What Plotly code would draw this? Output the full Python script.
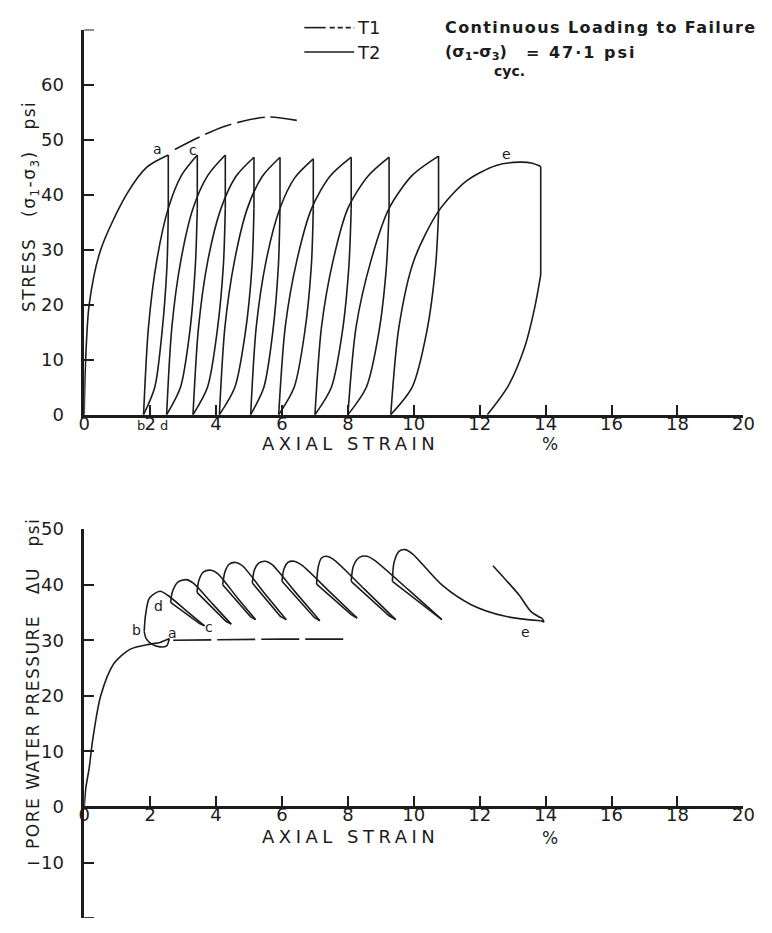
import plotly.graph_objects as go

W, H = 772, 933

# ---------------- top panel: stress vs axial strain ----------------
# T2 loading branches (strain %, deviator stress psi)
load_strain = [
    [0, 0.03, 0.15, 0.5, 1.28, 1.9, 2.55],
    [1.8, 1.95, 2.2, 2.55, 2.95, 3.43],
    [2.5, 2.66, 2.93, 3.3, 3.75, 4.28],
    [3.3, 3.47, 3.75, 4.15, 4.6, 5.15],
    [4.1, 4.27, 4.56, 4.95, 5.4, 5.94],
    [5.05, 5.22, 5.52, 5.92, 6.38, 6.95],
    [5.9, 6.1, 6.45, 6.9, 7.45, 8.1],
    [7.0, 7.2, 7.55, 8.0, 8.6, 9.25],
    [8.0, 8.25, 8.7, 9.25, 9.95, 10.75],
    [9.3, 9.55, 10.0, 10.75, 11.6, 12.5, 13.2, 13.6, 13.85],
]
load_stress = [
    [0, 8, 20, 30, 40, 45, 47.2],
    [0, 16, 28, 37.5, 43.5, 47.2],
    [0, 16, 28, 37.5, 43.5, 47.2],
    [0, 16, 28, 37.5, 43.3, 46.8],
    [0, 16, 28, 37.5, 43.3, 46.8],
    [0, 16, 28, 37.2, 43.0, 46.5],
    [0, 16, 28, 37.5, 43.3, 46.8],
    [0, 16, 28, 37.5, 43.3, 46.8],
    [0, 16, 28, 37.5, 43.5, 47.0],
    [0, 16, 28, 37.0, 42.5, 45.3, 45.9, 45.7, 45.1],
]
# T2 unloading branches: vertical drop then curve back to zero stress
unload_strain = [
    [2.55, 2.55, 2.51, 2.36, 2.14, 1.8],
    [3.43, 3.43, 3.37, 3.2, 2.92, 2.5],
    [4.28, 4.28, 4.22, 4.03, 3.74, 3.3],
    [5.15, 5.15, 5.09, 4.89, 4.57, 4.1],
    [5.94, 5.94, 5.89, 5.72, 5.45, 5.05],
    [6.95, 6.95, 6.89, 6.69, 6.37, 5.9],
    [8.1, 8.1, 8.03, 7.83, 7.5, 7.0],
    [9.25, 9.25, 9.17, 8.94, 8.56, 8.0],
    [10.75, 10.75, 10.66, 10.39, 9.95, 9.3],
    [13.85, 13.85, 13.67, 13.37, 12.87, 12.23],
]
unload_stress = [
    [47.2, 37.0, 27, 15, 5, 0],
    [47.2, 37.5, 27, 15, 5, 0],
    [47.2, 37.5, 27, 15, 5, 0],
    [46.8, 37.5, 27, 15, 5, 0],
    [46.8, 37.5, 27, 15, 5, 0],
    [46.5, 37.5, 27, 15, 5, 0],
    [46.8, 37.5, 27, 15, 5, 0],
    [46.8, 37.5, 27, 15, 5, 0],
    [47.0, 36.5, 27, 15, 5, 0],
    [45.1, 25.4, 19.5, 12.4, 5.3, 0],
]
# T1 continuous loading beyond point a (dashed)
t1_strain = [2.75, 3.4, 4.2, 5.0, 5.6, 6.45]
t1_stress = [48.2, 50.2, 52.3, 53.6, 54.1, 53.5]

# ---------------- bottom panel: pore water pressure ----------------
pp_init_strain = [0, 0.05, 0.15, 0.25, 0.5, 0.9, 1.4, 2.0, 2.3, 2.58]
pp_init_u = [0, 3.5, 7, 11.8, 20, 25.8, 28.4, 29.3, 29.6, 30.3]
pp_ab_strain = [2.58, 2.5, 2.3, 2.05, 1.88, 1.82]
pp_ab_u = [30.3, 29.0, 28.8, 29.3, 30.3, 31.6]
tooth_strain = [
    [1.82, 1.86, 1.98, 2.3, 2.55, 3.1, 3.65],
    [2.62, 2.68, 2.85, 3.1, 3.3, 3.9, 4.46],
    [3.42, 3.48, 3.62, 3.85, 4.05, 4.65, 5.2],
    [4.2, 4.27, 4.4, 4.6, 4.8, 5.45, 6.13],
    [5.1, 5.16, 5.3, 5.5, 5.7, 6.4, 7.15],
    [6.0, 6.06, 6.18, 6.37, 6.6, 7.45, 8.28],
    [7.05, 7.1, 7.2, 7.35, 7.55, 8.5, 9.45],
    [8.1, 8.17, 8.35, 8.58, 8.8, 9.85, 10.85],
    [9.35, 9.4, 9.55, 9.73, 9.95, 10.86, 11.74, 12.78, 13.85],
]
tooth_u = [
    [31.6, 34.5, 37.6, 38.8, 38.0, 35.3, 32.6],
    [36.8, 38.8, 40.5, 40.9, 40.3, 36.5, 32.9],
    [38.6, 40.8, 42.3, 42.6, 42.0, 37.6, 33.7],
    [40.0, 42.3, 43.7, 44.0, 43.4, 38.6, 33.7],
    [40.3, 42.6, 43.9, 44.2, 43.6, 38.7, 33.5],
    [40.6, 42.8, 44.0, 44.2, 43.5, 38.7, 34.0],
    [40.1, 43.2, 44.8, 45.1, 44.6, 39.2, 33.7],
    [40.6, 43.4, 44.9, 45.1, 44.4, 39.0, 33.7],
    [40.6, 44.0, 46.0, 46.3, 45.6, 39.9, 36.4, 34.3, 33.5],
]
return_strain = [
    [3.65, 3.5, 2.62],
    [4.46, 4.3, 3.42],
    [5.2, 5.05, 4.2],
    [6.13, 5.95, 5.1],
    [7.15, 6.98, 6.0],
    [8.28, 8.1, 7.05],
    [9.45, 9.25, 8.1],
    [10.85, 10.65, 9.35],
]
return_u = [
    [32.6, 33.0, 36.8],
    [32.9, 33.4, 38.6],
    [33.7, 34.2, 40.0],
    [33.7, 34.3, 40.3],
    [33.5, 34.1, 40.6],
    [34.0, 34.6, 40.1],
    [33.7, 34.4, 40.6],
    [33.7, 34.6, 40.6],
]
# final unloading after e
pp_e_strain = [13.85, 13.95, 13.9, 13.55, 13.2, 12.8, 12.4]
pp_e_u = [33.5, 33.3, 33.9, 35.2, 38.1, 40.8, 43.4]
pp_t1_strain = [2.7, 4.0, 6.0, 8.0]
pp_t1_u = [30.0, 30.1, 30.2, 30.2]

x_ticks = [0, 2, 4, 6, 8, 10, 12, 14, 16, 18, 20]
top_y_ticks = [0, 10, 20, 30, 40, 50, 60]
bot_y_ticks = [-10, 0, 10, 20, 30, 40, 50]
top_y_end = 70
bot_y_end = -20

INK = "#1c1c1c"
FONT = "DejaVu Sans"

fig = go.Figure()


def add_line(xs, ys, ax, shape="spline", dash="solid", width=1.6):
    fig.add_trace(go.Scatter(
        x=xs, y=ys, mode="lines", xaxis=ax[0], yaxis=ax[1],
        line=dict(color=INK, width=width, shape=shape, smoothing=0.8, dash=dash),
        showlegend=False, hoverinfo="skip"))


top = ("x", "y")
bot = ("x2", "y2")
for xs, ys in zip(load_strain, load_stress):
    add_line(xs, ys, top)
for xs, ys in zip(unload_strain, unload_stress):
    add_line(xs[:2], ys[:2], top, shape="linear")
    add_line(xs[1:], ys[1:], top)
add_line(t1_strain, t1_stress, top, dash="28px,6px")

add_line(pp_init_strain, pp_init_u, bot)
add_line(pp_ab_strain, pp_ab_u, bot)
for xs, ys in zip(tooth_strain, tooth_u):
    add_line(xs, ys, bot)
for xs, ys in zip(return_strain, return_u):
    add_line(xs, ys, bot, shape="linear")
add_line(pp_e_strain[:3], pp_e_u[:3], bot, shape="linear")
add_line(pp_e_strain[2:], pp_e_u[2:], bot)
add_line(pp_t1_strain, pp_t1_u, bot, shape="linear", dash="38px,6px")

x_dom = [80 / W, 754 / W]
axis_common = dict(
    showline=True, linecolor=INK, linewidth=2.5, ticks="inside", ticklen=10,
    tickwidth=2, tickcolor=INK, showgrid=False, zeroline=False,
    tickfont=dict(family=FONT, size=18, color=INK),
)
fig.update_layout(
    width=W, height=H, margin=dict(l=0, r=0, t=0, b=0),
    paper_bgcolor="white", plot_bgcolor="white",
    xaxis=dict(domain=x_dom, range=[0, 20], anchor="y", tickvals=x_ticks,
               ticklabelstandoff=-9, **axis_common),
    yaxis=dict(domain=[1 - 413 / H, 1 - 19 / H], range=[0, top_y_end], anchor="x",
               tickvals=top_y_ticks, ticklabelstandoff=14, **axis_common),
    xaxis2=dict(domain=x_dom, range=[0, 20], anchor="free",
                position=1 - 814.3 / H, tickvals=x_ticks,
                ticklabelstandoff=-9, **axis_common),
    yaxis2=dict(domain=[1 - 928 / H, 1 - 530 / H], range=[bot_y_end, 50], anchor="x2",
                tickvals=bot_y_ticks, ticklabelstandoff=14, **axis_common),
)

# end caps of the vertical axes
for yv, ya in [(top_y_end, "y"), (bot_y_end, "y2")]:
    fig.add_shape(type="line", xref="x domain" if ya == "y" else "x2 domain",
                  yref=ya, x0=0, x1=10 / 674, y0=yv, y1=yv,
                  line=dict(color=INK, width=2))


def px_note(text, x, y, size=16, angle=0, xanchor="center", bold=False, spacing=None):
    if spacing:
        text = f'<span style="letter-spacing:{spacing}px">{text}</span>'
    fig.add_annotation(
        text=text, x=x / W, y=1 - y / H, xref="paper", yref="paper",
        showarrow=False, textangle=angle, xanchor=xanchor, yanchor="middle",
        font=dict(family=FONT, size=size, color=INK,
                  weight="bold" if bold else "normal"))


def data_note(text, x, y, ax, size=14):
    fig.add_annotation(text=text, x=x, y=y, xref=ax[0], yref=ax[1],
                       showarrow=False, font=dict(family=FONT, size=size, color=INK))


NB = "\u00a0"
# axis titles
px_note("AXIAL STRAIN", 352, 442, size=18, spacing=4.5)
px_note("%", 556, 443, size=17)
px_note("AXIAL STRAIN", 352, 845, size=18, spacing=4.5)
px_note("%", 556, 846, size=17)
px_note("STRESS" + NB * 3 + "(σ<sub>1</sub>-σ<sub>3</sub>)" + NB * 3 + "psi",
        25, 200, size=17, angle=-90, spacing=1.5)
px_note("PORE WATER PRESSURE" + NB * 3 + "ΔU" + NB * 3 + "psi",
        27, 688, size=17, angle=-90, spacing=1.5)

# legend
for (x0, x1, y, dash) in [(305, 327, 17, "solid"), (331, 356, 17, "5px,3px"),
                          (305, 356, 42, "solid")]:
    fig.add_shape(type="line", xref="paper", yref="paper",
                  x0=x0 / W, x1=x1 / W, y0=1 - y / H, y1=1 - y / H,
                  line=dict(color=INK, width=1.6, dash=dash))
px_note("T1", 357, 17, size=18, xanchor="left")
px_note("T2", 357, 42, size=18, xanchor="left")
px_note("Continuous Loading to Failure", 447, 17, size=16, xanchor="left",
        bold=True, spacing=1.4)
px_note("(σ<sub>1</sub>-σ<sub>3</sub>)", 447, 42, size=16, xanchor="left", bold=True)
px_note("cyc.", 497, 61, size=14, xanchor="left", bold=True)
px_note("= 47·1 psi", 530, 42, size=16, xanchor="left", bold=True, spacing=2)

# point labels
data_note("a", 2.23, 48.3, top)
data_note("c", 3.3, 48.2, top)
data_note("e", 12.8, 47.4, top)
px_note("b", 138, 424, size=13)
px_note("d", 162, 424, size=13)
data_note("b", 1.58, 31.9, bot)
data_note("d", 2.26, 36.1, bot)
data_note("a", 2.67, 31.3, bot)
data_note("c", 3.8, 32.4, bot)
data_note("e", 13.4, 31.5, bot)

fig.write_html("out.html")
